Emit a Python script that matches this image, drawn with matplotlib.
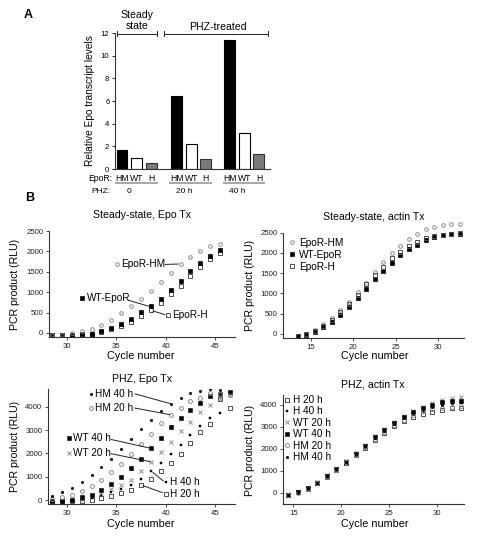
import matplotlib
matplotlib.use("Agg")
import matplotlib.pyplot as plt

plt.rcParams['font.family'] = ['Liberation Sans', 'DejaVu Sans']

# ---------------- data ----------------
# Panel A: relative Epo transcript levels
epor_types = ["HM", "WT", "H"]
phz_labels = ["0", "20 h", "40 h"]
epo_hm = [1.65, 6.45, 11.4]
epo_wt = [0.95, 2.25, 3.2]
epo_h = [0.57, 0.85, 1.3]

# Panel B: steady-state, Epo Tx
ss_epo_cycles = [28.5, 29.5, 30.5, 31.5, 32.5, 33.5, 34.5, 35.5, 36.5, 37.5,
                 38.5, 39.5, 40.5, 41.5, 42.5, 43.5, 44.5, 45.5]
ss_epo_hm = [-40, -50, -10, 40, 100, 200, 325, 480, 650, 840, 1040, 1260, 1480, 1690, 1870, 2010, 2130, 2180]
ss_epo_wt = [-50, -50, -40, -30, -15, 50, 120, 220, 340, 520, 670, 840, 1060, 1280, 1510, 1715, 1885, 2025]
ss_epo_h = [-40, -50, -40, -40, -25, 20, 90, 170, 280, 410, 570, 740, 950, 1160, 1385, 1615, 1825, 1970]

# Panel B: steady-state, actin Tx
ss_act_cycles = [13.5, 14.5, 15.5, 16.5, 17.5, 18.5, 19.5, 20.5, 21.5, 22.5,
                 23.5, 24.5, 25.5, 26.5, 27.5, 28.5, 29.5, 30.5, 31.5, 32.5]
ss_act_hm = [-50, 0, 100, 240, 400, 590, 790, 1025, 1265, 1535, 1780, 1990, 2170, 2335, 2475, 2580, 2645, 2690, 2710, 2710]
ss_act_wt = [-60, -20, 50, 160, 290, 460, 660, 890, 1115, 1345, 1550, 1740, 1950, 2090, 2195, 2320, 2385, 2440, 2465, 2475]
ss_act_h = [-55, 10, 80, 200, 350, 530, 730, 970, 1230, 1455, 1660, 1880, 2030, 2170, 2280, 2360, 2415, 2455, 2480, 2490]

# Panel B: PHZ, Epo Tx
phz_epo_cycles = [28.5, 29.5, 30.5, 31.5, 32.5, 33.5, 34.5, 35.5, 36.5, 37.5,
                  38.5, 39.5, 40.5, 41.5, 42.5, 43.5, 44.5, 45.5, 46.5]
phz_epo_hm40 = [157, 330, 515, 758, 1058, 1401, 1773, 2202, 2617, 3046, 3446, 3804, 4133, 4404, 4590, 4680, 4750, 4730, 4620]
phz_epo_hm20 = [57, 114, 200, 372, 586, 872, 1201, 1559, 1973, 2388, 2846, 3289, 3647, 3975, 4261, 4380, 4580, 4550, 4500]
phz_epo_wt40 = [-40, -30, 14, 129, 229, 415, 686, 1001, 1373, 1759, 2217, 2660, 3117, 3532, 3875, 4190, 4450, 4560, 4630]
phz_epo_wt20 = [-60, -40, -20, 43, 157, 300, 472, 629, 872, 1258, 1630, 2045, 2488, 2946, 3346, 3780, 4070, 4330, 4510]
phz_epo_h40 = [-70, -50, -30, 0, 100, 215, 329, 486, 629, 915, 1230, 1587, 1988, 2374, 2774, 3180, 3520, 3740, 4600]
phz_epo_h20 = [-80, -60, -50, -40, 14, 100, 186, 300, 443, 643, 901, 1230, 1587, 1988, 2445, 2905, 3250, 4340, 3970]

# Panel B: PHZ, actin Tx
phz_act_cycles = [14.5, 15.5, 16.5, 17.5, 18.5, 19.5, 20.5, 21.5, 22.5, 23.5,
                  24.5, 25.5, 26.5, 27.5, 28.5, 29.5, 30.5, 31.5, 32.5]
phz_act_h20 = [-90, 30, 190, 440, 720, 1040, 1380, 1720, 2050, 2420, 2730, 3020, 3250, 3450, 3580, 3700, 3780, 3850, 3880]
phz_act_h40 = [-70, 50, 220, 480, 780, 1100, 1440, 1800, 2150, 2540, 2860, 3180, 3450, 3680, 3850, 3980, 4070, 4150, 4200]
phz_act_wt20 = [-60, 60, 230, 500, 800, 1110, 1460, 1820, 2190, 2570, 2900, 3230, 3510, 3740, 3920, 4080, 4230, 4330, 4380]
phz_act_wt40 = [-70, 40, 210, 470, 770, 1090, 1430, 1790, 2140, 2520, 2860, 3170, 3450, 3680, 3880, 4010, 4120, 4170, 4200]
phz_act_hm20 = [-90, 20, 190, 450, 740, 1050, 1390, 1730, 2080, 2450, 2780, 3090, 3330, 3550, 3720, 3800, 3870, 3920, 3950]
phz_act_hm40 = [-80, 40, 210, 470, 760, 1070, 1420, 1770, 2120, 2500, 2830, 3140, 3400, 3620, 3780, 3900, 4000, 4080, 4120]

# ---------------- figure ----------------
W, H = 478, 538
fig = plt.figure(figsize=(W / 100, H / 100), dpi=100)


def px_axes(l, t, r, b):
    return fig.add_axes([l / W, 1 - b / H, (r - l) / W, (b - t) / H])


GRAY = '#8c8c8c'
DARK = '#4d4d4d'
SP = '#333333'
TICK_FS = 5.6

# styles for series
sty = {
    'HM': dict(marker='o', ms=2.6, mfc='none', mec=GRAY, mew=0.7, ls='none'),
    'WT': dict(marker='s', ms=2.6, mfc='black', mec='black', mew=0.5, ls='none'),
    'H': dict(marker='s', ms=2.5, mfc='none', mec=DARK, mew=0.7, ls='none'),
    'HM40': dict(marker='o', ms=1.9, mfc='black', mec='black', mew=0.3, ls='none'),
    'HM20': dict(marker='o', ms=2.8, mfc='none', mec=GRAY, mew=0.7, ls='none'),
    'WT40': dict(marker='s', ms=2.9, mfc='black', mec='black', mew=0.4, ls='none'),
    'WT20': dict(marker='x', ms=2.8, mec=GRAY, mew=0.7, ls='none'),
    'H40': dict(marker='s', ms=2.1, mfc='black', mec='black', mew=0.3, ls='none'),
    'H20': dict(marker='s', ms=2.6, mfc='none', mec=DARK, mew=0.7, ls='none'),
}


def style_axes(ax, xlim, ylim, xticks, yticks):
    ax.set_xlim(*xlim)
    ax.set_ylim(*ylim)
    for s in ['top', 'right']:
        ax.spines[s].set_visible(False)
    for s in ['left', 'bottom']:
        ax.spines[s].set_linewidth(0.8)
        ax.spines[s].set_color(SP)
    ax.set_xticks(xticks)
    ax.set_yticks(yticks)
    ax.tick_params(direction='out', length=2.5, width=0.6, labelsize=TICK_FS, pad=1.5, colors=SP,
                   labelcolor='#222222')


# ---------------- Panel A ----------------
axA = px_axes(115, 33, 270, 169)
group_starts = [0.0, 3.75, 7.4]
bw = 0.75
colors = {'HM': 'black', 'WT': 'white', 'H': '#7a7a7a'}
edges = {'HM': 'black', 'WT': 'black', 'H': '#333333'}
values = {'HM': epo_hm, 'WT': epo_wt, 'H': epo_h}
for i, t in enumerate(epor_types):
    xs = [g + i for g in group_starts]
    axA.bar(xs, values[t], width=bw, color=colors[t], edgecolor=edges[t], linewidth=0.8)
axA.set_xlim(-0.48, 10.16)
axA.set_ylim(0, 12)
for s in ['top', 'right']:
    axA.spines[s].set_visible(False)
for s in ['left', 'bottom']:
    axA.spines[s].set_linewidth(0.8)
    axA.spines[s].set_color(SP)
axA.set_xticks([])
axA.set_yticks([0, 2, 4, 6, 8, 10, 12])
axA.tick_params(axis='y', direction='out', length=2.5, width=0.6, labelsize=TICK_FS, pad=1.5)
axA.set_ylabel('Relative Epo transcript levels', fontsize=7.3, labelpad=4)

# below-axis labels
for g, lab in zip(group_starts, phz_labels):
    for i, t in enumerate(epor_types):
        axA.text(g + i, -0.8, t, ha='center', va='center', fontsize=6.2, clip_on=False)
    axA.plot([g - 0.5, g + 2.45], [-1.27, -1.27], color='#a0a0a0', lw=1.3, clip_on=False,
             solid_capstyle='butt')
    axA.text(g + 0.5, -1.95, lab, ha='center', va='center', fontsize=6, clip_on=False)
axA.text(-0.7, -0.8, 'EpoR:', ha='right', va='center', fontsize=6.2, clip_on=False)
axA.text(-0.8, -1.95, 'PHZ:', ha='right', va='center', fontsize=6, clip_on=False)


def bracket(ax, x0, x1, y):
    ax.plot([x0, x1], [y, y], color='#222222', lw=0.7, clip_on=False)
    for xx in (x0, x1):
        ax.plot([xx, xx], [y - 0.25, y + 0.25], color='#222222', lw=0.7, clip_on=False)


bracket(axA, -0.35, 2.4, 11.95)
bracket(axA, 2.85, 10.05, 11.95)
axA.text(1.02, 13.6, 'Steady', ha='center', va='center', fontsize=7.6, clip_on=False)
axA.text(1.02, 12.65, 'state', ha='center', va='center', fontsize=7.6, clip_on=False)
axA.text(6.55, 12.55, 'PHZ-treated', ha='center', va='center', fontsize=7.6, clip_on=False)

fig.text(28 / W, 1 - 15 / H, 'A', fontsize=9, fontweight='bold', ha='center', va='center')
fig.text(30 / W, 1 - 198 / H, 'B', fontsize=9, fontweight='bold', ha='center', va='center')

# ---------------- Panel B: steady-state Epo ----------------
ax1 = px_axes(49, 231, 235, 337)
ax1.plot(ss_epo_cycles, ss_epo_h, **sty['H'])
ax1.plot(ss_epo_cycles, ss_epo_wt, **sty['WT'])
ax1.plot(ss_epo_cycles, ss_epo_hm, **sty['HM'])
style_axes(ax1, (28.2, 47.0), (-100, 2500), [30, 35, 40, 45], [0, 500, 1000, 1500, 2000, 2500])
ax1.set_title('Steady-state, Epo Tx', fontsize=7.6, pad=9)
ann_fs = 7.2
ax1.plot([35.05], [1680], clip_on=False, **sty['HM'])
ax1.text(35.45, 1680, 'EpoR-HM', fontsize=ann_fs, va='center', ha='left')
ax1.plot([39.95, 41.25], [1680, 1690], color='#222', lw=0.7)
ax1.plot([31.5], [850], clip_on=False, **sty['WT'])
ax1.text(32.0, 850, 'WT-EpoR', fontsize=ann_fs, va='center', ha='left')
ax1.plot([36.25, 38.35], [800, 650], color='#222', lw=0.7)
ax1.plot([40.25], [430], clip_on=False, **sty['H'])
ax1.text(40.6, 430, 'EpoR-H', fontsize=ann_fs, va='center', ha='left')
ax1.plot([38.7, 39.9], [540, 450], color='#222', lw=0.7)

# ---------------- Panel B: steady-state actin ----------------
ax2 = px_axes(283, 232.7, 464, 338)
h_hm, = ax2.plot(ss_act_cycles, ss_act_hm, clip_on=False, **sty['HM'])
h_wt, = ax2.plot(ss_act_cycles, ss_act_wt, clip_on=False, **sty['WT'])
h_h, = ax2.plot(ss_act_cycles, ss_act_h, clip_on=False, **sty['H'])
style_axes(ax2, (11.75, 33.0), (-100, 2500), [15, 20, 25, 30], [0, 500, 1000, 1500, 2000, 2500])
ax2.set_title('Steady-state, actin Tx', fontsize=7.6, pad=9)
ax2.legend([h_hm, h_wt, h_h], ['EpoR-HM', 'WT-EpoR', 'EpoR-H'], loc='upper left',
           bbox_to_anchor=(0.035, 0.95), frameon=False, borderaxespad=0, borderpad=0,
           handlelength=0.6, handletextpad=0.35, labelspacing=0.2, fontsize=7.3)

# ---------------- Panel B: PHZ Epo ----------------
ax3 = px_axes(48, 389, 235, 504)
ax3.plot(phz_epo_cycles, phz_epo_h20, **sty['H20'])
ax3.plot(phz_epo_cycles, phz_epo_h40, **sty['H40'])
ax3.plot(phz_epo_cycles, phz_epo_wt20, **sty['WT20'])
ax3.plot(phz_epo_cycles, phz_epo_wt40, **sty['WT40'])
ax3.plot(phz_epo_cycles, phz_epo_hm20, **sty['HM20'])
ax3.plot(phz_epo_cycles, phz_epo_hm40, **sty['HM40'])
style_axes(ax3, (28.1, 47.0), (-170, 4770), [30, 35, 40, 45], [0, 1000, 2000, 3000, 4000])
ax3.text(37.6, 5000, 'PHZ, Epo Tx', fontsize=7.6, ha='center', va='bottom', clip_on=False)


def label(ax, mx, my, key, text, line):
    ax.plot([mx], [my], clip_on=False, **sty[key])
    ax.text(mx + 0.45, my, text, fontsize=ann_fs, va='center', ha='left')
    ax.plot(line[0], line[1], color='#222', lw=0.7, clip_on=False)


label(ax3, 32.4, 4560, 'HM40', 'HM 40 h', ([36.9, 40.4], [4560, 4150]))
label(ax3, 32.4, 3950, 'HM20', 'HM 20 h', ([36.9, 40.4], [3950, 3670]))
label(ax3, 30.2, 2660, 'WT40', 'WT 40 h', ([34.5, 38.4], [2600, 2230]))
label(ax3, 30.2, 2010, 'WT20', 'WT 20 h', ([34.5, 38.4], [1990, 1650]))
label(ax3, 40.0, 760, 'H40', 'H 40 h', ([38.7, 39.75], [1190, 820]))
label(ax3, 40.0, 280, 'H20', 'H 20 h', ([37.7, 39.65], [620, 320]))

# ---------------- Panel B: PHZ actin ----------------
ax4 = px_axes(283, 395, 464, 504)
hs = []
hs.append(ax4.plot(phz_act_cycles, phz_act_h20, **sty['H20'])[0])
hs.append(ax4.plot(phz_act_cycles, phz_act_h40, **sty['H40'])[0])
hs.append(ax4.plot(phz_act_cycles, phz_act_wt20, **sty['WT20'])[0])
hs.append(ax4.plot(phz_act_cycles, phz_act_wt40, **sty['WT40'])[0])
hs.append(ax4.plot(phz_act_cycles, phz_act_hm20, **sty['HM20'])[0])
hs.append(ax4.plot(phz_act_cycles, phz_act_hm40, **sty['HM40'])[0])
style_axes(ax4, (13.93, 32.8), (-500, 4450), [15, 20, 25, 30], [0, 1000, 2000, 3000, 4000])
ax4.text(23.3, 4700, 'PHZ, actin Tx', fontsize=7.6, ha='center', va='bottom', clip_on=False)
ax4.legend(hs, ['H 20 h', 'H 40 h', 'WT 20 h', 'WT 40 h', 'HM 20 h', 'HM 40 h'],
           loc='upper left', bbox_to_anchor=(0.01, 1.0), frameon=False, borderaxespad=0,
           borderpad=0, handlelength=0.5, handletextpad=0.3, labelspacing=0.14, fontsize=7.2)

# axis labels
for (x, y) in [(15, 284), (15, 446), (250, 285), (250, 450)]:
    fig.text(x / W, 1 - y / H, 'PCR product (RLU)', rotation=90, fontsize=7.6, ha='center', va='center')
for (x, y) in [(141, 356), (375, 356), (141, 524), (375, 524)]:
    fig.text(x / W, 1 - y / H, 'Cycle number', fontsize=7.8, ha='center', va='center')

fig.savefig('out.png', dpi=100)
